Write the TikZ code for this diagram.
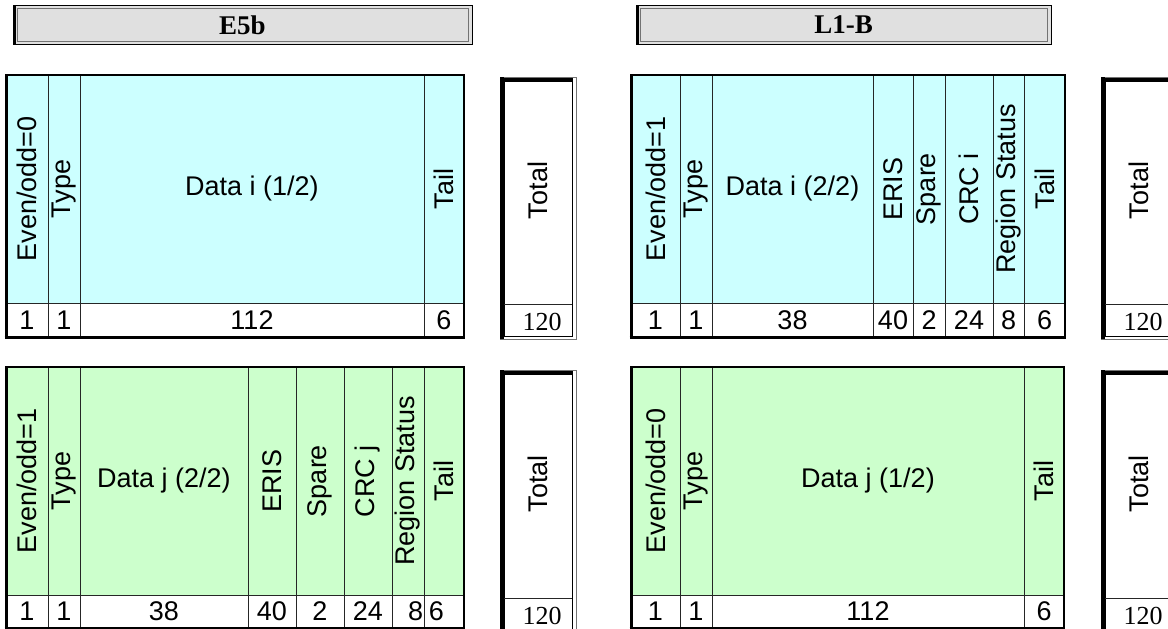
\documentclass[tikz,border=0pt]{standalone}
\usepackage{fontspec}
\newfontfamily\arialf{Liberation Sans}
\newfontfamily\timesf{Liberation Serif}
\definecolor{cyanfill}{HTML}{CCFFFF}
\definecolor{greenfill}{HTML}{CCFFCC}
\definecolor{hdrfill}{HTML}{E0E0E0}
\tikzset{
  lab/.style={font=\arialf\fontsize{27}{28}\selectfont, inner sep=0pt},
  vlab/.style={lab, rotate=90},
  num/.style={lab},
  tnum/.style={font=\timesf\fontsize{26}{26}\selectfont, inner sep=0pt},
  hdr/.style={font=\timesf\bfseries\fontsize{27}{27}\selectfont, inner sep=0pt},
  cellline/.style={draw=black!85, line width=0.9pt},
}
% name, x1, x2, ytop, ysep, ybot, fill, label, number
\newcommand\fldv[9]{%
  \path[cellline,fill=#7] (#2,#4) rectangle (#3,#5);
  \path[cellline,fill=white] (#2,#5) rectangle (#3,#6);
  \node[vlab] (#1-l) at ({(#2+#3)/2},{(#4+#5)/2}) {#8};
  \node[num] (#1-n) at ({(#2+#3)/2},{(#5+#6)/2}) {#9};}
\newcommand\fldh[9]{%
  \path[cellline,fill=#7] (#2,#4) rectangle (#3,#5);
  \path[cellline,fill=white] (#2,#5) rectangle (#3,#6);
  \node[lab] (#1-l) at ({(#2+#3)/2},{(#4+#5)/2}) {#8};
  \node[num] (#1-n) at ({(#2+#3)/2},{(#5+#6)/2}) {#9};}
% table frame: x1, y1, x2, y2
\newcommand\tframe[4]{%
  \draw[black, line width=1.5pt] (#1,#2) rectangle (#3,#4);
  \draw[black, line width=2pt] (#3,#2) -- (#3,#4);
  \draw[black, line width=3pt] (#1,#2) -- (#1,#4);
  \draw[black, line width=3pt] (#1-1.5,#4) -- (#3+1,#4);}
% total box: name, x1, x2, ytop, ysep, ybot
\newcommand\totbox[6]{%
  \path[fill=white] (#2,#4) rectangle (#3,#6);
  \draw[black!55, line width=0.8pt] (#2,#4) rectangle (#3,#6);
  \draw[black, line width=1pt] (#2+4,#4+4) rectangle (#3-4,#6-3);
  \draw[black, line width=3.5pt] (#2+2,#4) -- (#2+2,#6);
  \draw[black, line width=2.5pt] (#2,#4+2.5) -- (#3-3,#4+2.5);
  \draw[black!85, line width=0.9pt] (#2+4,#5) -- (#3-4,#5);
  \node[vlab] (#1-l) at ({(#2+#3)/2},{(#4+#5)/2}) {Total};
  \node[tnum] (#1-n) at ({(#2+#3)/2+4},{(#5+#6)/2}) {120};}
% header: name, x1, x2, text
\newcommand\hdrbox[4]{%
  \path[fill=hdrfill] (#2,5) rectangle (#3,44);
  \draw[black, line width=1pt] (#2,5) rectangle (#3,44);
  \draw[black!55, line width=0.8pt] (#2+4,8) rectangle (#3-4,41);
  \draw[black, line width=3pt] (#2+1.5,5) -- (#2+1.5,44);
  \node[hdr] (#1) at ({(#2+#3)/2},25) {#4};}

\begin{document}
\begin{tikzpicture}[x=1pt,y=-1pt]
\useasboundingbox (0,0) rectangle (1168,629);

% headers
\hdrbox{hE}{13}{472}{E5b}
\hdrbox{hL}{636}{1051}{L1-B}

% top-left table
\fldv{tl1}{6}{48}{75}{303}{337}{cyanfill}{Even/odd=0}{1}
\fldv{tl2}{48}{80}{75}{303}{337}{cyanfill}{Type}{1}
\fldh{tl3}{80}{424}{75}{303}{337}{cyanfill}{Data i (1/2)}{112}
\fldv{tl4}{424}{464}{75}{303}{337}{cyanfill}{Tail}{6}
\tframe{6}{75}{464}{337}
\totbox{tlt}{500}{576}{77}{304}{339}

% top-right table
\fldv{tr1}{631}{680}{75}{303}{337}{cyanfill}{Even/odd=1}{1}
\fldv{tr2}{680}{712}{75}{303}{337}{cyanfill}{Type}{1}
\fldh{tr3}{712}{873}{75}{303}{337}{cyanfill}{Data i (2/2)}{38}
\fldv{tr4}{873}{913}{75}{303}{337}{cyanfill}{ERIS}{40}
\fldv{tr5}{913}{945}{75}{303}{337}{cyanfill}{Spare}{2}
\fldv{tr6}{945}{993}{75}{303}{337}{cyanfill}{CRC i}{24}
\fldv{tr7}{993}{1024}{75}{303}{337}{cyanfill}{Region Status}{8}
\fldv{tr8}{1024}{1065}{75}{303}{337}{cyanfill}{Tail}{6}
\tframe{631}{75}{1065}{337}
\totbox{trt}{1101}{1177}{77}{304}{339}

% bottom-left table
\fldv{bl1}{6}{48}{367}{595}{628}{greenfill}{Even/odd=1}{1}
\fldv{bl2}{48}{80}{367}{595}{628}{greenfill}{Type}{1}
\fldh{bl3}{80}{248}{367}{595}{628}{greenfill}{Data j (2/2)}{38}
\fldv{bl4}{248}{296}{367}{595}{628}{greenfill}{ERIS}{40}
\fldv{bl5}{296}{344}{367}{595}{628}{greenfill}{Spare}{2}
\fldv{bl6}{344}{392}{367}{595}{628}{greenfill}{CRC j}{24}
\fldv{bl7}{392}{424}{367}{595}{628}{greenfill}{Region Status}{\phantom{0}8}
\fldv{bl8}{424}{464}{367}{595}{628}{greenfill}{Tail}{6\phantom{0}}
\tframe{6}{367}{464}{628}
\totbox{blt}{500}{576}{370}{598}{633}

% bottom-right table
\fldv{br1}{631}{680}{367}{595}{628}{greenfill}{Even/odd=0}{1}
\fldv{br2}{680}{712}{367}{595}{628}{greenfill}{Type}{1}
\fldh{br3}{712}{1024}{367}{595}{628}{greenfill}{Data j (1/2)}{112}
\fldv{br4}{1024}{1064}{367}{595}{628}{greenfill}{Tail}{6}
\tframe{631}{367}{1064}{628}
\totbox{brt}{1101}{1177}{370}{598}{633}
\end{tikzpicture}
\end{document}
